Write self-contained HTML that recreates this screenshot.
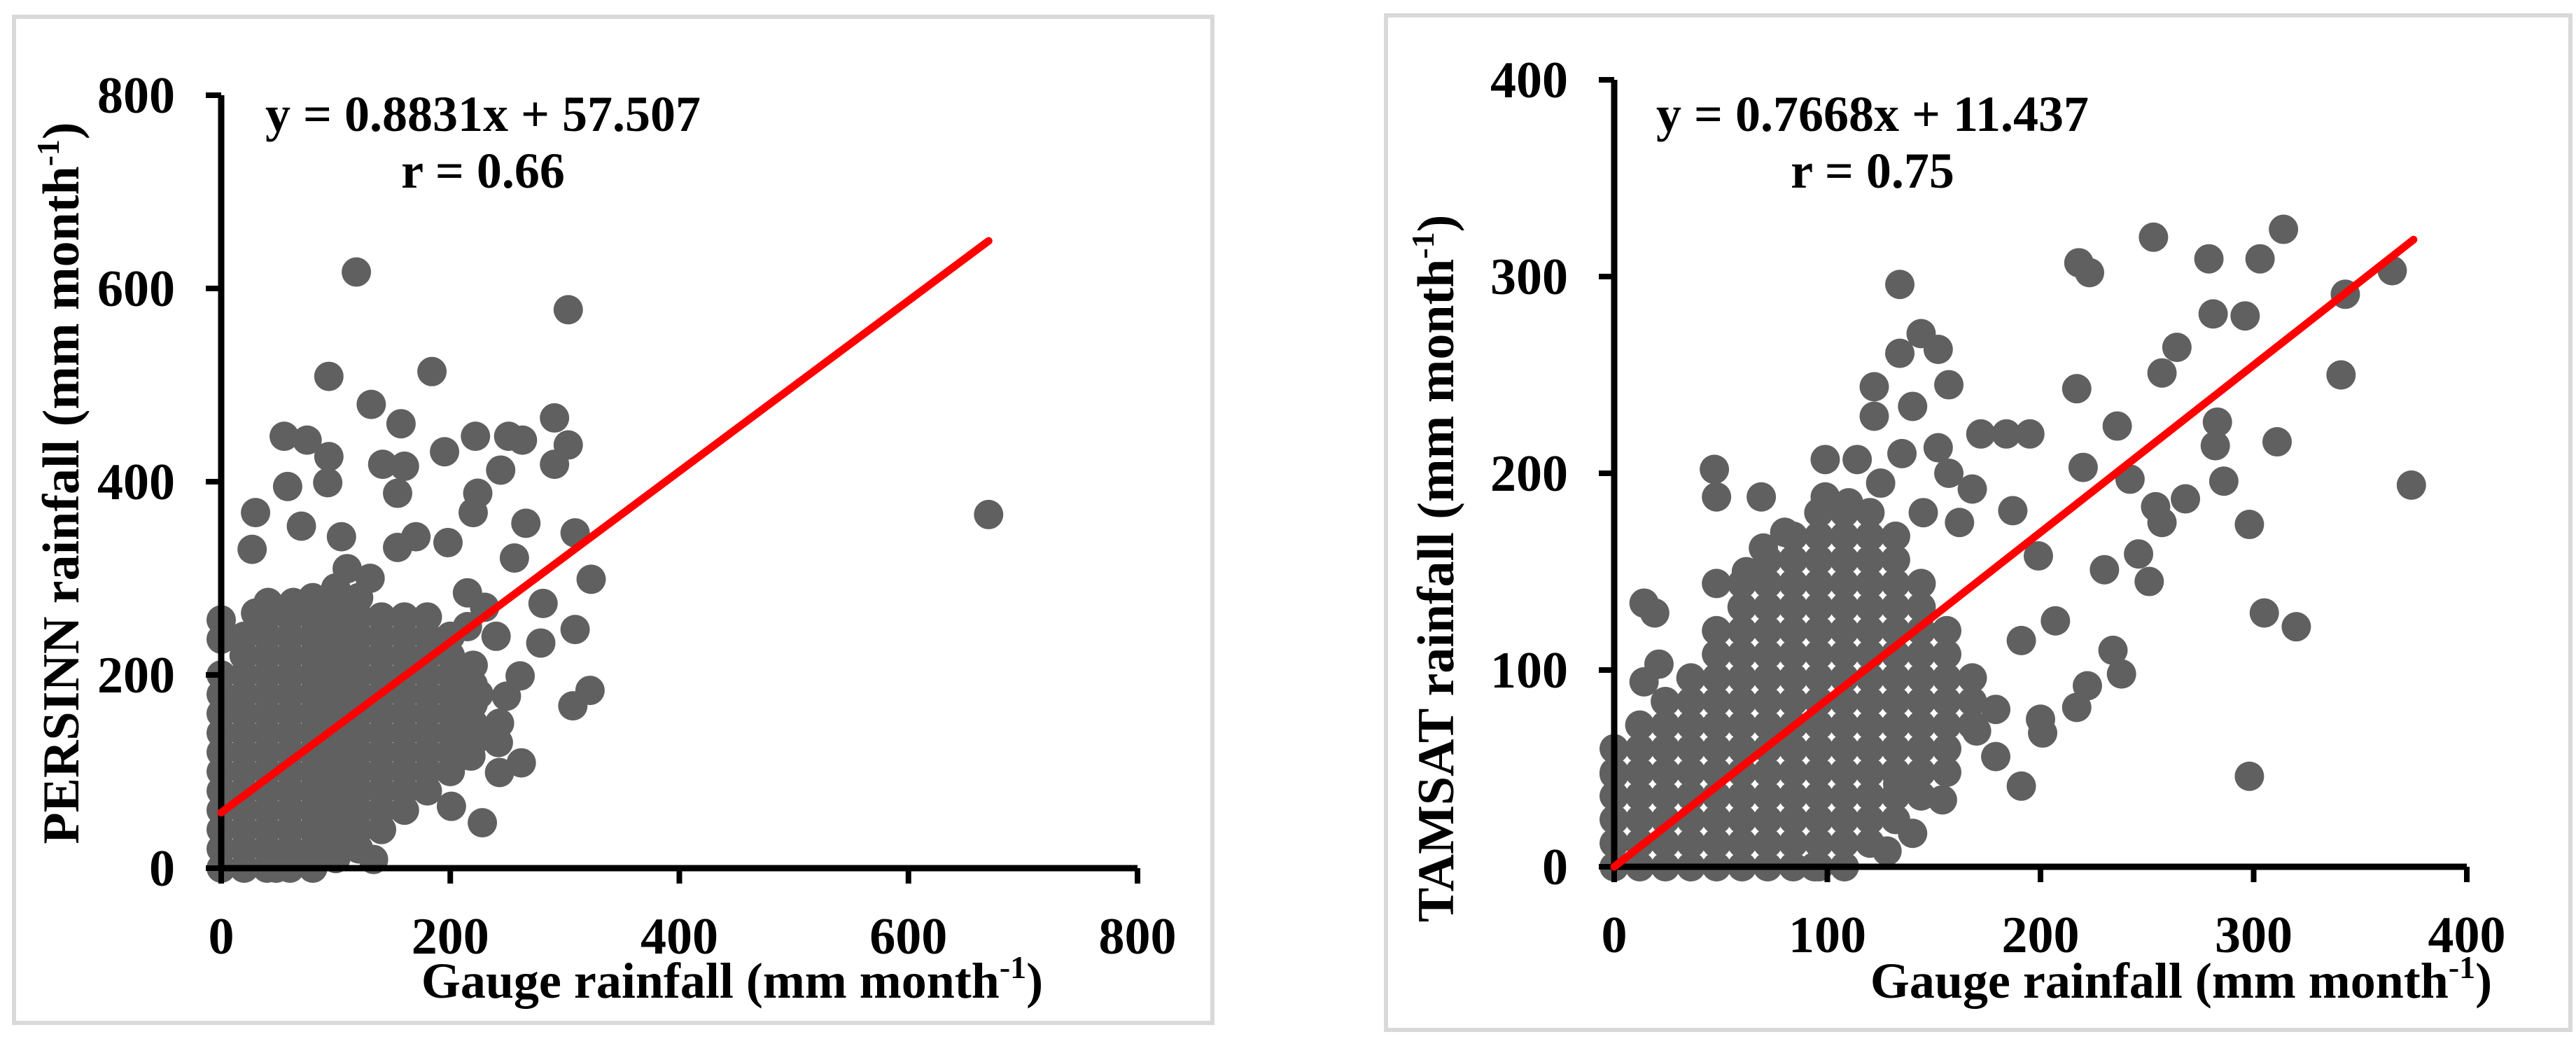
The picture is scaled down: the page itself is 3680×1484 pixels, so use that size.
<!DOCTYPE html>
<html><head><meta charset="utf-8"><style>
html,body{margin:0;padding:0;background:#fff;}
svg{display:block;font-family:"Liberation Serif",serif;font-weight:bold;}
</style></head><body>
<svg id="s" width="3680" height="1484" viewBox="0 0 3680 1484" xmlns="http://www.w3.org/2000/svg">
<rect x="20" y="24" width="1712" height="1437" fill="none" stroke="#d9d9d9" stroke-width="6"/>
<rect x="1980" y="22" width="1692" height="1449" fill="none" stroke="#d9d9d9" stroke-width="6"/>
<g id="left"></g>
<g id="right"></g>
</svg>
<script>
const NS="http://www.w3.org/2000/svg";
// ---- Left chart data (PERSINN vs gauge) ----
const leftTicks=[0,200,400,600,800];
const leftOutX=[118,303,94,184,131,157,55,75,94,93,58,195,222,251,263,291,303,291,244,224,220,141,160,154,30,27,70,266,105,170,198,154,256,309,323,309,281,322,307,279,261,249,243,242,243,262,228,201,209,218,133,670,95,74,48,0,0,30,41,63,12,230,215,110,130,240,210,225,205,230,215];
const leftOutY=[617,578,509,514,480,460,447,443,426,399,395,431,447,447,443,466,438,418,412,388,368,418,416,388,368,330,354,357,343,343,337,332,321,347,299,247,274,184,168,233,199,178,150,130,99,109,47,64,116,116,9,366,23,6,0,257,237,264,275,275,170,270,285,310,300,240,150,180,200,140,250];
const leftColX=[0,20,40,60,80,100,120,140,160,180,200,220];
const leftColY=[
[0,20,40,60,80,100,120,140,160,180,200],
[0,20,40,60,80,100,120,140,160,180,200,220,240],
[0,20,40,60,80,100,120,140,160,180,200,220,240,260],
[0,20,40,60,80,100,120,140,160,180,200,220,240,260,270],
[0,20,40,60,80,100,120,140,160,180,200,220,240,260,280],
[10,30,50,70,90,110,130,150,170,190,210,230,250,270,290],
[20,40,60,80,100,120,140,160,180,200,220,240,260,280],
[40,60,80,100,120,140,160,180,200,220,240,260],
[60,80,100,120,140,160,180,200,220,240,260],
[80,100,120,140,160,180,200,220,240,260],
[100,120,140,160,180,200,220,240],
[130,150,170,190,210]];
const leftFit=[0.8831,57.507,0,670];
// ---- Right chart data (TAMSAT vs gauge) ----
const rightTicks=[0,100,200,300,400];
const rightOutX=[253,314,218,223,279,303,365,343,281,296,264,257,341,134,217,236,283,282,311,374,286,220,242,268,298,254,257,172,184,195,187,199,230,246,251,207,305,320,191,234,238,217,222,179,170,200,201,179,191,298,133,154,140,128,94,47,48,69,14,19,21,14,0,134,144,152,122,122,140,157,99,114,135,152,99,157,168,162,110,125,145,62,70,80];
const rightOutY=[320,324,307,302,309,309,303,291,281,280,264,251,250,296,243,224,226,214,216,194,196,203,197,187,174,183,175,220,220,220,181,158,151,159,145,125,129,122,115,110,98,81,92,80,69,75,68,56,41,46,42,34,17,8,0,202,188,188,134,129,103,94,47,261,271,263,244,229,234,245,207,207,210,213,188,200,192,175,185,195,180,150,162,170];
const rightColX=[0,12,24,36,48,60,72,84,96,108,120,132,144,156,168];
const rightColY=[
[0,12,24,36,48,60],
[0,12,24,36,48,60,72],
[0,12,24,36,48,60,72,84],
[0,12,24,36,48,60,72,84,96],
[0,12,24,36,48,60,72,84,96,108,120,144],
[0,12,24,36,48,60,72,84,96,108,120,132,144],
[0,12,24,36,48,60,72,84,96,108,120,132,144,156],
[0,12,24,36,48,60,72,84,96,108,120,132,144,156,168],
[0,12,24,36,48,60,72,84,96,108,120,132,144,156,168,180],
[0,12,24,36,48,60,72,84,96,108,120,132,144,156,168,180],
[12,24,36,48,60,72,84,96,108,120,132,144,156,168,180],
[24,36,48,60,72,84,96,108,120,132,144,156,168],
[36,48,60,72,84,96,108,120,132,144],
[48,60,72,84,96,108,120],
[72,84,96]];
const rightFit=[0.85,0,0,375];

function el(tag,attrs,parent){const e=document.createElementNS(NS,tag);for(const k in attrs)e.setAttribute(k,attrs[k]);parent.appendChild(e);return e;}

function chart(g,cfg){
  const sx=v=>cfg.x0+(v-cfg.min)/(cfg.max-cfg.min)*(cfg.x1-cfg.x0);
  const sy=v=>cfg.y0-(v-cfg.min)/(cfg.max-cfg.min)*(cfg.y0-cfg.y1);
  const pts=el('g',{},g);
  
  
  const dot=(x,y)=>{const c=el('circle',{cx:sx(x),cy:sy(y),r:21,fill:'#606060'},pts);
    
    };
  cfg.colX.forEach((x,i)=>cfg.colY[i].forEach(y=>dot(x,y)));
  cfg.outX.forEach((x,i)=>dot(x,cfg.outY[i]));
  const ya=el('line',{x1:cfg.x0,y1:cfg.y1,x2:cfg.x0,y2:cfg.y0+4,stroke:'#000','stroke-width':9},g);
  
  
  const xa=el('line',{x1:cfg.x0-4,y1:cfg.y0,x2:cfg.x1,y2:cfg.y0,stroke:'#000','stroke-width':9},g);
  
  
  cfg.ticks.forEach(t=>{
    const a=el('line',{x1:cfg.x0-22,y1:sy(t),x2:cfg.x0,y2:sy(t),stroke:'#000','stroke-width':8},g);
    
    
    const b=el('line',{x1:sx(t),y1:cfg.y0,x2:sx(t),y2:cfg.y0+22,stroke:'#000','stroke-width':8},g);
    
    
    const yl=el('text',{x:cfg.x0-66,y:sy(t)+25,'text-anchor':'end','font-size':74},g);
    yl.textContent=t;
    
    
    const xl=el('text',{x:sx(t),y:cfg.y0+122,'text-anchor':'middle','font-size':74},g);
    xl.textContent=t;
    
    
  });
  const [m,b,xa0,xa1]=cfg.fit;
  const fl=el('line',{x1:sx(xa0),y1:sy(m*xa0+b),x2:sx(xa1),y2:sy(m*xa1+b),stroke:'#ff0000','stroke-width':11,'stroke-linecap':'round'},g);
  
  
  const eq=el('text',{x:cfg.eqX,y:187,'text-anchor':'middle','font-size':72},g);
  eq.textContent=cfg.eq;
  
  
  const rt=el('text',{x:cfg.rX,y:268,'text-anchor':'middle','font-size':72},g);
  rt.textContent=cfg.r;
  
  
  const xt=el('text',{x:cfg.xtX,y:1425,'text-anchor':'middle','font-size':72},g);
  xt.innerHTML='Gauge rainfall (mm month<tspan dy="-28" font-size="46">-1</tspan><tspan dy="28">)</tspan>';
  
  
  const yt=el('text',{x:0,y:0,'text-anchor':'middle','font-size':74,transform:`translate(${cfg.ytX},${cfg.ytY}) rotate(-90)`},g);
  yt.innerHTML=cfg.ytitle+' rainfall (mm month<tspan dy="-28" font-size="46">-1</tspan><tspan dy="28">)</tspan>';
  
  
}
chart(document.getElementById('left'),{x0:316,x1:1625,y0:1240,y1:136,min:0,max:800,ticks:leftTicks,
  outX:leftOutX,outY:leftOutY,colX:leftColX,colY:leftColY,fit:leftFit,
  eq:'y = 0.8831x + 57.507',eqX:690,r:'r = 0.66',rX:690,xtX:1046,ytX:112,ytY:690,ytitle:'PERSINN'});
chart(document.getElementById('right'),{x0:2306,x1:3524,y0:1238,y1:114,min:0,max:400,ticks:rightTicks,
  outX:rightOutX,outY:rightOutY,colX:rightColX,colY:rightColY,fit:rightFit,
  eq:'y = 0.7668x + 11.437',eqX:2675,r:'r = 0.75',rX:2675,xtX:3116,ytX:2076,ytY:812,ytitle:'TAMSAT'});
</script>
</body></html>
